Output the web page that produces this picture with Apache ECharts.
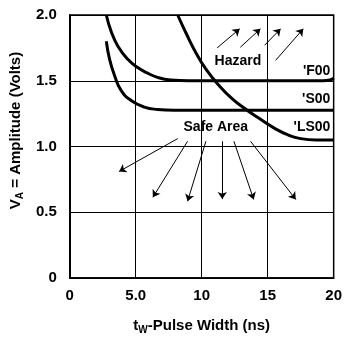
<!DOCTYPE html>
<html>
<head>
<meta charset="utf-8">
<script src="https://cdn.jsdelivr.net/npm/echarts@6/dist/echarts.min.js"></script>
<style>
  html, body { margin: 0; padding: 0; background: #fff; }
  #chart { width: 345px; height: 340px; }
</style>
</head>
<body>
<div id="chart"></div>
<script>
// tick labels
var xTicks = [0, 5, 10, 15, 20];
var xTickLabels = ['0', '5.0', '10', '15', '20'];
var yTicks = [0, 0.5, 1, 1.5, 2];
var yTickLabels = ['0', '0.5', '1.0', '1.5', '2.0'];

// curves [pulse width ns, amplitude V]
var f00 = [[2.77, 2.0], [3.14, 1.875], [3.65, 1.763], [4.4, 1.663], [5.15, 1.6], [5.9, 1.558], [6.65, 1.526], [7.65, 1.506], [9, 1.5], [19.2, 1.5], [19.7, 1.505], [20, 1.52]];
var s00 = [[2.77, 1.8], [3.02, 1.663], [3.4, 1.538], [3.9, 1.425], [4.65, 1.35], [5.65, 1.3], [6.65, 1.282], [7.9, 1.276], [20, 1.276]];
var ls00 = [[8.18, 2.0], [8.81, 1.863], [9.56, 1.713], [10.32, 1.588], [11.32, 1.463], [12.32, 1.363], [13.44, 1.276], [14.57, 1.2], [15.5, 1.14], [16.5, 1.09], [17.5, 1.06], [18.7, 1.05], [20, 1.05]];

// arrows [from, to]
var hazardArrows = [
  [[11.17, 1.75], [12.88, 1.895]],
  [[12.93, 1.755], [14.45, 1.895]],
  [[14.77, 1.77], [15.98, 1.895]],
  [[15.6, 1.655], [17.7, 1.895]]
];
var safeArrows = [
  [[8.18, 1.06], [3.74, 0.81]],
  [[8.93, 1.04], [6.3, 0.614]],
  [[10.32, 1.04], [8.93, 0.584]],
  [[11.56, 1.04], [11.56, 0.6]],
  [[12.44, 1.04], [13.94, 0.597]],
  [[13.7, 1.04], [17.13, 0.597]]
];

// text annotations [x, y, text]
var centerNotes = [[12.74, 1.65, 'Hazard'], [11.07, 1.15, 'Safe Area']];
var seriesNotes = [[19.75, 1.575, "'F00"], [19.75, 1.358, "'S00"], [19.75, 1.151, "'LS00"]];

var FONT = '"Liberation Sans", Arial, sans-serif';

var chart = echarts.init(document.getElementById('chart'));

function curve(name, data) {
  return {
    name: name,
    type: 'line',
    data: data,
    smooth: 0.5,
    showSymbol: false,
    lineStyle: { color: '#000', width: 3 },
    z: 5
  };
}

function arrows(data) {
  return {
    type: 'lines',
    coordinateSystem: 'cartesian2d',
    data: data.map(function (a) { return { coords: a }; }),
    symbol: ['none', 'arrow'],
    symbolSize: 7,
    lineStyle: { color: '#000', width: 1, opacity: 1 },
    z: 4
  };
}

function notes(data, align) {
  return {
    type: 'scatter',
    data: data,
    symbolSize: 0,
    itemStyle: { opacity: 1 },
    label: {
      show: true,
      position: 'inside',
      align: align,
      formatter: function (p) { return p.data[2]; },
      color: '#000',
      opacity: 1,
      fontFamily: FONT,
      fontWeight: 'bold',
      fontSize: 14
    },
    z: 6
  };
}

chart.setOption({
  animation: false,
  backgroundColor: '#fff',
  grid: {
    left: 69.5, right: 9, top: 15, bottom: 58,
    show: true, borderColor: '#000', borderWidth: 1.5
  },
  xAxis: {
    type: 'value', min: 0, max: 20, interval: 5,
    name: '{t|t}{sub|W}{t|-Pulse Width (ns)}',
    nameLocation: 'middle', nameGap: 38,
    nameTextStyle: {
      rich: {
        t: { fontFamily: FONT, fontWeight: 'bold', fontSize: 15, color: '#000' },
        sub: { fontFamily: FONT, fontWeight: 'bold', fontSize: 10, color: '#000', padding: [9, 0, 0, 0] }
      }
    },
    axisLine: { lineStyle: { color: '#000', width: 1.5 } },
    axisTick: { show: false },
    splitLine: { lineStyle: { color: '#000', width: 1 } },
    axisLabel: {
      margin: 10, color: '#000', fontFamily: FONT, fontWeight: 'bold', fontSize: 15,
      formatter: function (v) { return xTickLabels[xTicks.indexOf(v)]; }
    }
  },
  yAxis: {
    type: 'value', min: 0, max: 2, interval: 0.5,
    name: '{t|V}{sub|A}{t| = Amplitude (Volts)}',
    nameLocation: 'middle', nameGap: 36, nameRotate: 90,
    nameTextStyle: {
      padding: [0, 0, 0, 32],
      rich: {
        t: { fontFamily: FONT, fontWeight: 'bold', fontSize: 15, color: '#000' },
        sub: { fontFamily: FONT, fontWeight: 'bold', fontSize: 10, color: '#000', padding: [9, 0, 0, 0] }
      }
    },
    axisLine: { show: true, lineStyle: { color: '#000', width: 1.5 } },
    axisTick: { show: false },
    splitLine: { lineStyle: { color: '#000', width: 1 } },
    axisLabel: {
      margin: 13, color: '#000', fontFamily: FONT, fontWeight: 'bold', fontSize: 15,
      formatter: function (v) { return yTickLabels[yTicks.indexOf(v)]; }
    }
  },
  series: [
    curve("'F00", f00),
    curve("'S00", s00),
    curve("'LS00", ls00),
    arrows(hazardArrows),
    arrows(safeArrows),
    notes(centerNotes, 'center'),
    notes(seriesNotes, 'right')
  ]
});

window.addEventListener('resize', chart.resize);
</script>
</body>
</html>
